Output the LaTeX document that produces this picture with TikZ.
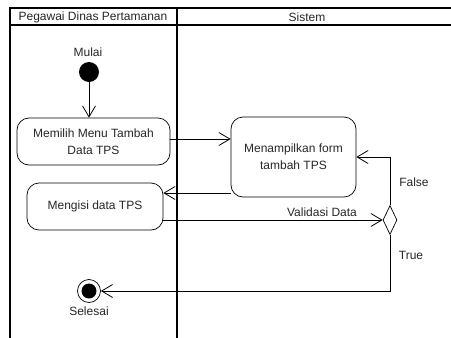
\documentclass[tikz,border=0pt]{standalone}
\usepackage{fontspec}
\setmainfont{Liberation Sans}
\usetikzlibrary{arrows.meta,shapes.geometric}
\begin{document}
\begin{tikzpicture}[x=1pt,y=-1pt,
  act/.style={draw, rounded corners=12pt, align=center, font=\fontsize{12}{17}\selectfont, line width=0.7pt, inner sep=0pt, text=black!85},
  lbl/.style={font=\fontsize{12}{14}\selectfont, text=black!85, inner sep=0pt},
  conn/.style={line width=0.8pt, -{Straight Barb[length=11pt,width=13pt]}},
  lane/.style={line width=1.6pt}]
\useasboundingbox (0,0) rectangle (451,338);
% swimlane frame
\draw[lane] (10,338) -- (10,8) -- (453,8);
\draw[lane] (10,25) -- (453,25);
\draw[lane] (177,8) -- (177,338);
\node[lbl] (h1) at (93,17) {Pegawai Dinas Pertamanan};
\node[lbl] (h2) at (307,17) {Sistem};
% nodes
\node[lbl] (mulai) at (88,52) {Mulai};
\node[circle, fill=black, minimum size=20pt, inner sep=0pt] (start) at (89,72) {};
\node[act, minimum width=153pt, minimum height=47pt] (n1) at (93.5,141.5) {Memilih Menu Tambah\\Data TPS};
\node[act, minimum width=125pt, minimum height=80pt] (n2) at (293.5,157) {Menampilkan form\\tambah TPS};
\node[act, minimum width=136pt, minimum height=47pt] (n3) at (95,206.5) {Mengisi data TPS};
\node[diamond, draw, line width=0.7pt, minimum width=14pt, minimum height=29pt, inner sep=0pt] (dia) at (390,220) {};
\node[circle, draw, line width=0.7pt, minimum size=23pt, inner sep=0pt] (end) at (89,291) {};
\node[circle, fill=black, minimum size=15pt, inner sep=0pt] (endin) at (end.center) {};
\node[lbl] (selesai) at (89,311) {Selesai};
% labels
\node[lbl] (vl) at (322,212) {Validasi Data};
\node[lbl] (fl) at (414,182) {False};
\node[lbl] (tl) at (411,255) {True};
% connectors
\coordinate (ya) at (0,139);
\coordinate (yb) at (0,193);
\draw[conn] (start.south) -- (start.south |- n1.north);
\draw[conn] (n1.east |- ya) -- (n2.west |- ya);
\draw[conn] (n2.west |- yb) -- (n3.east |- yb);
\draw[conn] (n3.east |- dia.west) -- (dia.west);
\draw[conn] (dia.north) |- (n2.east);
\draw[conn] (dia.south) |- (end.east);
\end{tikzpicture}
\end{document}
